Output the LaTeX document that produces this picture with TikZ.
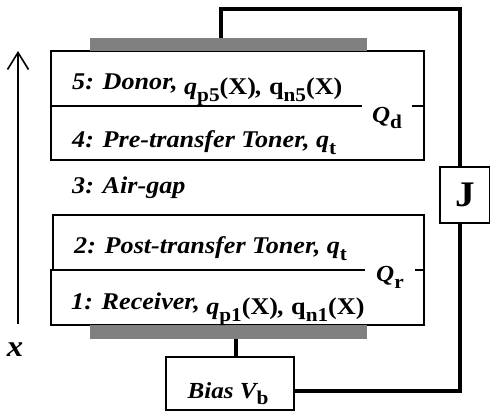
\documentclass[tikz,border=0pt]{standalone}
\usepackage{fontspec}
\setmainfont{Liberation Serif}[FakeStretch=1.09]
\usetikzlibrary{arrows.meta}
\newcommand\sbs[1]{\raisebox{-0.3em}{\fontsize{19.5}{19.5}\selectfont\bfseries\upshape #1}}
\newcommand\lowq[1]{\raisebox{-5pt}{#1}}
\definecolor{bargray}{HTML}{808080}
\begin{document}
\begin{tikzpicture}[x=1pt,y=-1pt,
  box/.style={draw, line width=1.6pt, inner sep=0pt, outer sep=0pt},
  bar/.style={fill=bargray, inner sep=0pt, outer sep=0pt},
  wire/.style={line width=3.4pt, line join=miter},
  lbl/.style={anchor=base west, inner sep=0pt, font=\fontsize{24}{27}\selectfont\bfseries\itshape},
  qlbl/.style={fill=white, inner sep=0pt, minimum width=50pt, minimum height=30pt, font=\fontsize{23}{26}\selectfont\bfseries\itshape}]
\useasboundingbox (0,0) rectangle (490,412);
% boxes
\node[box, minimum width=373pt, minimum height=109pt] (donor) at (237.5,105.5) {};
\node[box, minimum width=371pt, minimum height=55pt] (post) at (238.5,242.5) {};
\node[box, minimum width=373pt, minimum height=55pt] (recv) at (237.5,297.5) {};
\coordinate (dl) at (51,106);
\draw[line width=1.6pt] (dl) -- (dl -| donor.east);
% electrodes
\node[bar, minimum width=277pt, minimum height=13pt] (topbar) at (228.5,44.5) {};
\node[bar, minimum width=277pt, minimum height=14pt] (botbar) at (228.5,332) {};
% J and bias
\node[box, minimum width=50pt, minimum height=56pt, font=\fontsize{36}{38}\selectfont\bfseries] (J) at (465,195) {J};
\node[box, minimum width=128pt, minimum height=53pt] (bias) at (230,383.5) {};
\node[lbl, anchor=base, font=\fontsize{23}{26}\selectfont\bfseries\itshape] (biastext) at (228,398) {Bias \textit{V}\sbs{b}};
% wires
\draw[wire] (topbar.north -| 221,0) -- (221,9) -| ([xshift=-5pt]J.north);
\draw[wire] ([xshift=-5pt]J.south) |- (bias.east |- 0,391);
\draw[wire] (botbar.south -| 236,0) -- (bias.north -| 236,0);
% x axis
\coordinate (xa0) at (18,324);
\coordinate (xa1) at (18,51);
\draw[line width=1.6pt, -{Straight Barb[length=17pt,width=21pt,line width=1.6pt]}] (xa0) -- (xa1);
\node[font=\fontsize{30}{32}\selectfont\bfseries\itshape, inner sep=0pt] (xl) at (15,350) {x};
% labels
\node[lbl] (l5) at (72,89) {5: Donor, \lowq{\textit{q}\sbs{p5}\textup{(X)}, \textup{q}\sbs{n5}\textup{(X)}}};
\node[lbl] (l4) at (72,147) {4: Pre-transfer Toner, \textit{q}\sbs{t}};
\node[lbl] (l3) at (72,193) {3: Air-gap};
\node[lbl] (l2) at (74,253) {2: Post-transfer Toner, \textit{q}\sbs{t}};
\node[lbl] (l1) at (71,309) {1: Receiver, \lowq{\textit{q}\sbs{p1}\textup{(X)}, \textup{q}\sbs{n1}\textup{(X)}}};
\node[qlbl] (Qd) at (387,118) {\textit{Q}\sbs{d}};
\node[qlbl] (Qr) at (390,277) {\textit{Q}\sbs{r}};
\end{tikzpicture}
\end{document}
